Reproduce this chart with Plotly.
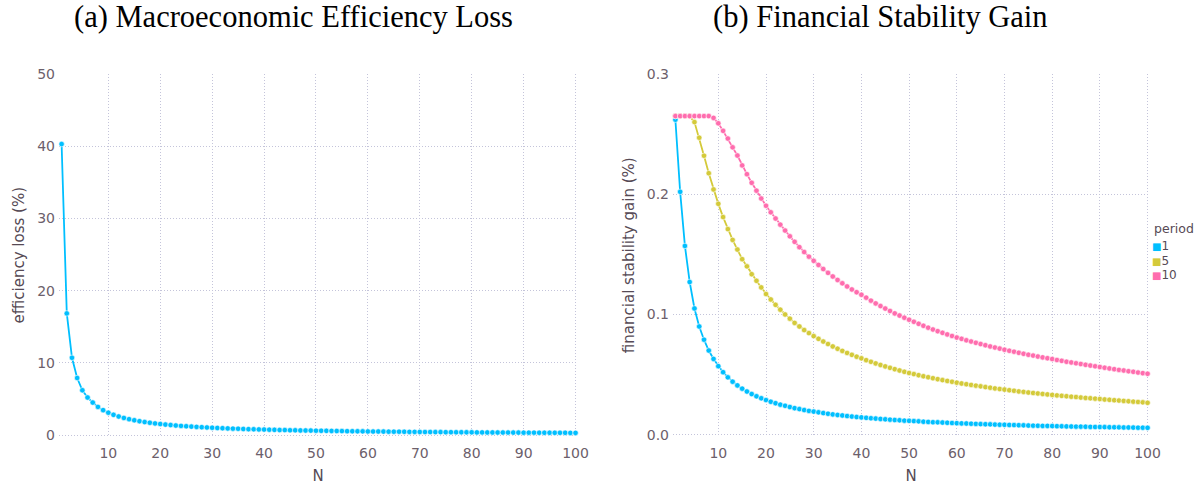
import plotly.graph_objects as go

N = list(range(1, 101))

efficiency_loss = [
    40.3, 16.85, 10.7, 7.9, 6.2, 5.2, 4.5, 3.9, 3.45, 3.1,
    2.8, 2.57, 2.37, 2.2, 2.05, 1.92, 1.8, 1.7, 1.61, 1.53,
    1.45, 1.39, 1.32, 1.27, 1.22, 1.17, 1.13, 1.09, 1.05, 1.01,
    0.98, 0.95, 0.92, 0.89, 0.87, 0.84, 0.82, 0.80, 0.78, 0.76,
    0.74, 0.72, 0.70, 0.69, 0.67, 0.66, 0.64, 0.63, 0.62, 0.60,
    0.59, 0.58, 0.57, 0.56, 0.55, 0.54, 0.53, 0.52, 0.51, 0.50,
    0.49, 0.49, 0.48, 0.47, 0.46, 0.46, 0.45, 0.44, 0.44, 0.43,
    0.42, 0.42, 0.41, 0.41, 0.40, 0.40, 0.39, 0.39, 0.38, 0.38,
    0.37, 0.37, 0.36, 0.36, 0.35, 0.35, 0.35, 0.34, 0.34, 0.33,
    0.33, 0.33, 0.32, 0.32, 0.32, 0.31, 0.31, 0.31, 0.30, 0.30,
]

gain_period_1 = [
    0.262, 0.202, 0.157, 0.127, 0.105, 0.090, 0.079, 0.070, 0.063, 0.057,
    0.0520, 0.0477, 0.0441, 0.0410, 0.0383, 0.0359, 0.0338, 0.0319, 0.0303, 0.0288,
    0.0274, 0.0262, 0.0250, 0.0240, 0.0230, 0.0221, 0.0213, 0.0205, 0.0198, 0.0192,
    0.0186, 0.0180, 0.0174, 0.0169, 0.0164, 0.0160, 0.0155, 0.0151, 0.0147, 0.0144,
    0.0140, 0.0137, 0.0134, 0.0131, 0.0128, 0.0125, 0.0122, 0.0120, 0.0117, 0.0115,
    0.0113, 0.0111, 0.0108, 0.0106, 0.0104, 0.0103, 0.0101, 0.0099, 0.0097, 0.0096,
    0.0094, 0.0093, 0.0091, 0.0090, 0.0088, 0.0087, 0.0086, 0.0084, 0.0083, 0.0082,
    0.0081, 0.0080, 0.0079, 0.0078, 0.0076, 0.0075, 0.0074, 0.0073, 0.0073, 0.0072,
    0.0071, 0.0070, 0.0069, 0.0068, 0.0067, 0.0067, 0.0066, 0.0065, 0.0064, 0.0064,
    0.0063, 0.0062, 0.0062, 0.0061, 0.0060, 0.0060, 0.0059, 0.0058, 0.0058, 0.0057,
]

gain_period_5 = [
    0.265, 0.265, 0.265, 0.265, 0.260, 0.247, 0.232, 0.2175, 0.204, 0.192,
    0.181, 0.171, 0.162, 0.154, 0.146, 0.140, 0.1335, 0.128, 0.1225, 0.117,
    0.1125, 0.108, 0.104, 0.100, 0.0965, 0.093, 0.090, 0.087, 0.0845, 0.082,
    0.0797, 0.0775, 0.0754, 0.0734, 0.0715, 0.0697, 0.0680, 0.0664, 0.0649, 0.0635,
    0.0620, 0.0606, 0.0593, 0.0580, 0.0568, 0.0556, 0.0545, 0.0534, 0.0523, 0.0513,
    0.0504, 0.0495, 0.0486, 0.0478, 0.0470, 0.0462, 0.0454, 0.0447, 0.0440, 0.0433,
    0.0426, 0.0420, 0.0414, 0.0408, 0.0402, 0.0396, 0.0391, 0.0385, 0.0380, 0.0375,
    0.0370, 0.0365, 0.0360, 0.0356, 0.0351, 0.0347, 0.0343, 0.0339, 0.0335, 0.0331,
    0.0327, 0.0323, 0.0320, 0.0316, 0.0313, 0.0309, 0.0306, 0.0303, 0.0300, 0.0297,
    0.0293, 0.0290, 0.0287, 0.0284, 0.0281, 0.0278, 0.0275, 0.0272, 0.0269, 0.0265,
]

gain_period_10 = [
    0.265, 0.265, 0.265, 0.265, 0.265, 0.265, 0.265, 0.265, 0.2635, 0.259,
    0.2527, 0.2463, 0.2390, 0.2322, 0.2240, 0.2167, 0.2095, 0.2030, 0.1964, 0.1904,
    0.1850, 0.1798, 0.1747, 0.1698, 0.1650, 0.1604, 0.1560, 0.1519, 0.1481, 0.1446,
    0.1412, 0.1378, 0.1346, 0.1316, 0.1287, 0.1259, 0.1233, 0.1208, 0.1185, 0.1164,
    0.1140, 0.1115, 0.1092, 0.1070, 0.1049, 0.1029, 0.1009, 0.0991, 0.0973, 0.0956,
    0.0939, 0.0922, 0.0906, 0.0890, 0.0875, 0.0861, 0.0847, 0.0834, 0.0821, 0.0808,
    0.0797, 0.0785, 0.0775, 0.0764, 0.0754, 0.0744, 0.0734, 0.0725, 0.0716, 0.0707,
    0.0698, 0.0690, 0.0681, 0.0673, 0.0665, 0.0658, 0.0650, 0.0643, 0.0636, 0.0629,
    0.0621, 0.0614, 0.0607, 0.0601, 0.0594, 0.0588, 0.0581, 0.0575, 0.0569, 0.0563,
    0.0557, 0.0551, 0.0545, 0.0539, 0.0534, 0.0528, 0.0523, 0.0517, 0.0512, 0.0507,
]

periods = ["1", "5", "10"]
colors = ["#00BFFF", "#D4CA3A", "#FF6DAE"]
titles = ["(a) Macroeconomic Efficiency Loss", "(b) Financial Stability Gain"]

W, H = 1201, 489
TICK = "#6C606B"
GUIDE = "#564A55"
GRID = "#C4C4DA"
SANS = "DejaVu Sans"
DASH = "1px,2px"

fig = go.Figure()


def add_series(y, color, xa, ya):
    fig.add_trace(go.Scatter(
        x=N, y=y, mode="lines+markers", xaxis=xa, yaxis=ya,
        line=dict(color=color, width=1.8),
        marker=dict(color=color, size=5.5, line=dict(color="white", width=0.6)),
        showlegend=False, cliponaxis=False, hoverinfo="x+y",
    ))


add_series(efficiency_loss, colors[0], "x", "y")
for series, c in zip([gain_period_1, gain_period_5, gain_period_10], colors):
    add_series(series, c, "x2", "y2")

ydom = [1 - 436.5 / H, 1 - 74 / H]

common_x = dict(
    showgrid=True, gridcolor=GRID, griddash=DASH, gridwidth=1,
    zeroline=False, showline=False, ticks="", automargin=False,
    tickvals=[10, 20, 30, 40, 50, 60, 70, 80, 90, 100],
    tickfont=dict(family=SANS, size=14, color=TICK),
    title=dict(text="N", font=dict(family=SANS, size=15, color=GUIDE), standoff=10),
    ticklabelstandoff=6,
    range=[0.5, 100.3],
)
common_y = dict(
    showgrid=True, gridcolor=GRID, griddash=DASH, gridwidth=1,
    zeroline=False, showline=False, ticks="", automargin=False,
    tickfont=dict(family=SANS, size=14, color=TICK),
    ticklabelstandoff=3,
    domain=ydom,
)

fig.update_layout(
    width=W, height=H,
    margin=dict(l=0, r=0, t=0, b=0, autoexpand=False),
    paper_bgcolor="white", plot_bgcolor="white",
    xaxis=dict(common_x, domain=[59 / W, 577.1 / W], anchor="y"),
    yaxis=dict(common_y, anchor="x", range=[-0.2, 50],
               tickvals=[0, 10, 20, 30, 40, 50],
               title=dict(text="efficiency loss (%)",
                          font=dict(family=SANS, size=15, color=GUIDE), standoff=8)),
    xaxis2=dict(common_x, domain=[673 / W, 1149 / W], anchor="y2"),
    yaxis2=dict(common_y, anchor="x2", range=[-0.0015, 0.3],
                tickvals=[0.0, 0.1, 0.2, 0.3], ticktext=["0.0", "0.1", "0.2", "0.3"],
                title=dict(text="financial stability gain (%)",
                           font=dict(family=SANS, size=15, color=GUIDE), standoff=8)),
    showlegend=False,
)

# legend built from annotations (compact spacing as in the reference)
fig.add_annotation(
    text="period", x=1152 / W, y=1 - 228 / H, xref="paper", yref="paper",
    xanchor="left", yanchor="middle", showarrow=False,
    font=dict(family=SANS, size=12.5, color=GUIDE),
)
legend_lines = [
    f"<span style='color:{c};font-size:10px'>■</span>"
    f"<span style='font-size:12px'>{p}</span>"
    for p, c in zip(periods, colors)
]
fig.add_annotation(
    text="<br>".join(legend_lines), x=1151 / W, y=1 - 260.5 / H,
    xref="paper", yref="paper", xanchor="left", yanchor="middle",
    align="left", showarrow=False, borderpad=0,
    font=dict(family=SANS, size=11.2, color=GUIDE),
)

centers = [293, 880]
for t, cx in zip(titles, centers):
    fig.add_annotation(
        text=t, x=cx / W, y=1 - 17 / H, xref="paper", yref="paper",
        xanchor="center", yanchor="middle", showarrow=False,
        font=dict(family="Liberation Serif", size=30.5, color="black"),
    )

fig.write_html("out.html")
